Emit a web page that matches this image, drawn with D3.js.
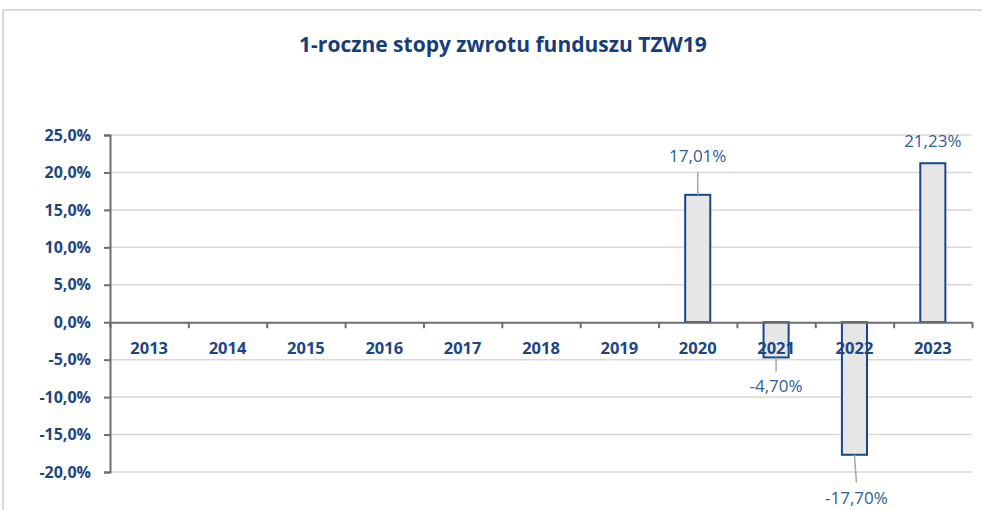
<!DOCTYPE html>
<html>
<head>
<meta charset="utf-8">
<script src="https://cdn.jsdelivr.net/npm/d3@7/dist/d3.min.js"></script>
<style>
	html, body { margin: 0; padding: 0; background: #fff; }
	svg { display: block; font-family: 'Open Sans', sans-serif; }
</style>
</head>
<body>
<svg id="chart" width="982" height="510"></svg>
<script>
const years = ['2013', '2014', '2015', '2016', '2017', '2018', '2019', '2020', '2021', '2022', '2023'];
const returns = [null, null, null, null, null, null, null, 17.01, -4.70, -17.70, 21.23];
const yTicks = [-20, -15, -10, -5, 0, 5, 10, 15, 20, 25];
const chartTitle = '1-roczne stopy zwrotu funduszu TZW19';

// label nudges as placed in the original (px from bar end)
const labelShift = {
	'2020': { dy: -33, dx: 0, leader: true },
	'2021': { dy: 35, dx: 0, leader: true },
	'2022': { dy: 49, dx: 2, leader: true },
	'2023': { dy: -16, dx: 0, leader: false }
};

let svg = d3.select('#chart'),
	margin = { top: 135, right: 10, bottom: 38, left: 110 },
	width = +svg.attr('width') - margin.left - margin.right,
	height = +svg.attr('height') - margin.top - margin.bottom;

// outer frame
svg.append('rect')
	.attr('x', 3).attr('y', 10)
	.attr('width', 1000).attr('height', 600)
	.attr('fill', 'none')
	.attr('stroke', '#d9d9d9')
	.attr('stroke-width', 2);

svg.append('text')
	.attr('x', 503)
	.attr('y', 52)
	.attr('text-anchor', 'middle')
	.attr('fill', '#163d7a')
	.attr('font-weight', 700)
	.attr('font-size', 21)
	.text(chartTitle);

let g = svg.append('g').attr('transform', `translate(${margin.left}, ${margin.top})`);

let x = d3.scaleBand()
	.domain(years)
	.range([0, width])
	.paddingInner(0.68)
	.paddingOuter(0.34);

let y = d3.scaleLinear()
	.domain([-20, 25])
	.range([height, 0]);

let fmtAxis = d => d.toFixed(1).replace('.', ',') + '%';
let fmtLabel = d => d.toFixed(2).replace('.', ',') + '%';

// gridlines
g.append('g')
	.selectAll('line')
	.data(yTicks.filter(d => d !== 0))
	.enter()
	.append('line')
	.attr('x1', 0)
	.attr('x2', width)
	.attr('y1', d => y(d))
	.attr('y2', d => y(d))
	.attr('stroke', '#d9d9d9')
	.attr('stroke-width', 1.5);

// y axis
let yAxis = g.append('g')
	.call(d3.axisLeft(y).tickValues(yTicks).tickFormat(fmtAxis).tickSize(6).tickPadding(13));
yAxis.select('.domain').attr('stroke', '#6d6d6d').attr('stroke-width', 2);
yAxis.selectAll('.tick line').attr('stroke', '#6d6d6d').attr('stroke-width', 2);
yAxis.selectAll('.tick text')
	.attr('fill', '#1c4684')
	.attr('font-weight', 700)
	.attr('font-size', 16)
	.attr('font-family', "'Open Sans', sans-serif");

// bars
let data = years.map((c, i) => ({ c: c, v: returns[i] })).filter(d => d.v !== null);

g.selectAll('rect.bar')
	.data(data)
	.enter()
	.append('rect')
	.attr('class', 'bar')
	.attr('x', d => x(d.c))
	.attr('width', x.bandwidth())
	.attr('y', d => y(Math.max(0, d.v)))
	.attr('height', d => Math.abs(y(d.v) - y(0)))
	.attr('fill', '#e6e6e6')
	.attr('stroke', '#17468a')
	.attr('stroke-width', 2);

// x axis at zero with ticks at category boundaries
let xb = d3.scaleLinear().domain([0, years.length]).range([0, width]);
let xAxis = g.append('g')
	.attr('transform', `translate(0, ${y(0)})`)
	.call(d3.axisBottom(xb).tickValues(d3.range(years.length + 1)).tickFormat('').tickSize(6).tickSizeOuter(0));
xAxis.select('.domain').attr('stroke', '#6d6d6d').attr('stroke-width', 2);
xAxis.selectAll('.tick line').attr('stroke', '#6d6d6d').attr('stroke-width', 2);

// category labels
g.append('g')
	.selectAll('text')
	.data(years)
	.enter()
	.append('text')
	.attr('x', d => x(d) + x.bandwidth() / 2)
	.attr('y', y(0) + 32)
	.attr('text-anchor', 'middle')
	.attr('fill', '#1c4684')
	.attr('font-weight', 700)
	.attr('font-size', 16.5)
	.text(d => d);

// data labels + leader lines
let labels = g.selectAll('g.dataLabel')
	.data(data)
	.enter()
	.append('g')
	.attr('class', 'dataLabel');

labels.filter(d => labelShift[d.c].leader)
	.append('line')
	.attr('x1', d => x(d.c) + x.bandwidth() / 2)
	.attr('y1', d => y(d.v))
	.attr('x2', d => x(d.c) + x.bandwidth() / 2 + labelShift[d.c].dx)
	.attr('y2', d => y(d.v) + (d.v > 0 ? labelShift[d.c].dy + 10 : labelShift[d.c].dy - 21))
	.attr('stroke', '#a6a6a6')
	.attr('stroke-width', 1.5);

labels.append('text')
	.attr('x', d => x(d.c) + x.bandwidth() / 2 + labelShift[d.c].dx)
	.attr('y', d => y(d.v) + labelShift[d.c].dy)
	.attr('text-anchor', 'middle')
	.attr('fill', '#2e5e9c')
	.attr('font-size', 17)
	.text(d => fmtLabel(d.v));
</script>
</body>
</html>
